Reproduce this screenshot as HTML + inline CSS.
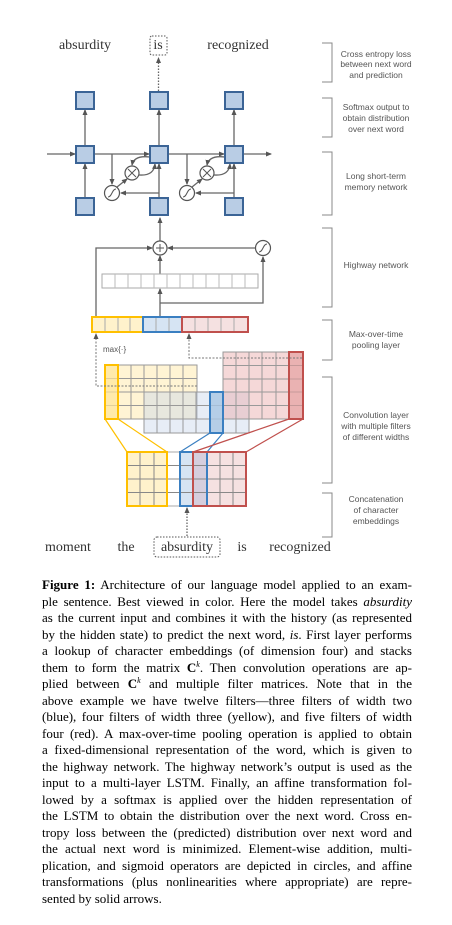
<!DOCTYPE html>
<html><head><meta charset="utf-8"><style>
html,body{margin:0;padding:0;background:#fff;width:452px;height:925px;overflow:hidden}
svg{position:absolute;left:0;top:0}
.cap{position:absolute;left:42px;top:577px;width:370px;font-family:"Liberation Serif",serif;font-size:13px;color:#000}
.cap div{height:16.5px;line-height:16.5px;text-align:justify;text-align-last:justify;white-space:nowrap;overflow:visible}
.cap div.l{text-align-last:left}
.sp{position:relative;top:-5px;font-size:8px;line-height:0;font-style:italic}
</style></head><body>
<svg width="452" height="570" viewBox="0 0 452 570" xmlns="http://www.w3.org/2000/svg">
<defs>
<marker id="a" markerWidth="6" markerHeight="6" refX="5" refY="3" orient="auto" markerUnits="userSpaceOnUse"><path d="M0,0.5 L6,3 L0,5.5z" fill="#555"/></marker>
</defs>
<g font-family="Liberation Serif, serif" font-size="14" fill="#333" text-anchor="middle">
<text x="85" y="49">absurdity</text>
<text x="158" y="49">is</text>
<text x="238" y="49">recognized</text>
<text x="68" y="551">moment</text>
<text x="126" y="551">the</text>
<text x="187" y="551">absurdity</text>
<text x="242" y="551">is</text>
<text x="300" y="551">recognized</text>
</g>
<rect x="150" y="36" width="17" height="19" rx="2" fill="none" stroke="#555" stroke-dasharray="1.5,1.5"/>
<rect x="154" y="537" width="66" height="20" rx="3" fill="none" stroke="#555" stroke-dasharray="1.5,1.5"/>
<g stroke="#666" stroke-width="1.3" fill="none">
<line x1="158.5" y1="91" x2="158.5" y2="58" stroke-dasharray="1.5,1.5" marker-end="url(#a)"/>
<line x1="187" y1="536" x2="187" y2="508" stroke-dasharray="1.5,1.5" marker-end="url(#a)"/>
<line x1="47" y1="154" x2="75" y2="154" marker-end="url(#a)"/>
<line x1="94" y1="154" x2="149" y2="154" marker-end="url(#a)"/>
<line x1="168" y1="154" x2="224" y2="154" marker-end="url(#a)"/>
<line x1="243" y1="154" x2="271" y2="154" marker-end="url(#a)"/>
<line x1="85" y1="145" x2="85" y2="110" marker-end="url(#a)"/>
<line x1="159" y1="145" x2="159" y2="110" marker-end="url(#a)"/>
<line x1="234" y1="145" x2="234" y2="110" marker-end="url(#a)"/>
<line x1="85" y1="197" x2="85" y2="164" marker-end="url(#a)"/>
<line x1="159" y1="197" x2="159" y2="164" marker-end="url(#a)"/>
<line x1="234" y1="197" x2="234" y2="164" marker-end="url(#a)"/>
<line x1="112" y1="154" x2="112" y2="184" marker-end="url(#a)"/>
<line x1="159" y1="193" x2="121" y2="193" marker-end="url(#a)"/>
<line x1="117" y1="187" x2="127" y2="179" marker-end="url(#a)"/>
<path d="M150,157 Q134,155 132,165" marker-end="url(#a)"/>
<path d="M139,175 Q154,176 155,164" marker-end="url(#a)"/>
<line x1="187" y1="154" x2="187" y2="184" marker-end="url(#a)"/>
<line x1="234" y1="193" x2="196" y2="193" marker-end="url(#a)"/>
<line x1="192" y1="187" x2="202" y2="179" marker-end="url(#a)"/>
<path d="M225,157 Q209,155 207,165" marker-end="url(#a)"/>
<path d="M214,175 Q229,176 230,164" marker-end="url(#a)"/>
<line x1="160" y1="241" x2="160" y2="218" marker-end="url(#a)"/>
<polyline points="96,317 96,248 152,248" marker-end="url(#a)"/>
<line x1="255" y1="248" x2="168" y2="248" marker-end="url(#a)"/>
<line x1="160" y1="317" x2="160" y2="289" marker-end="url(#a)"/>
<line x1="160" y1="274" x2="160" y2="256" marker-end="url(#a)"/>
<polyline points="160,303 263,303 263,257" marker-end="url(#a)"/>
</g>
<g fill="#fff" stroke="#555" stroke-width="1.2">
<circle cx="132" cy="173" r="7"/><circle cx="112" cy="193" r="7.5"/>
<circle cx="207" cy="173" r="7"/><circle cx="187" cy="193" r="7.5"/>
<circle cx="160" cy="248" r="7"/><circle cx="263" cy="248" r="7.5"/>
</g>
<g stroke="#555" stroke-width="1" fill="none">
<path d="M128,169 L136,177 M136,169 L128,177"/><path d="M203,169 L211,177 M211,169 L203,177"/>
<path d="M156,248 L164,248 M160,244 L160,252"/>
<path d="M108,197 C112,197 112,189 116,189"/><path d="M183,197 C187,197 187,189 191,189"/><path d="M259,252 C263,252 263,244 267,244"/>
</g>
<g fill="#b9cde5" stroke="#3b6496" stroke-width="2">
<rect x="76" y="92" width="18" height="17"/><rect x="150" y="92" width="18" height="17"/><rect x="225" y="92" width="18" height="17"/>
<rect x="76" y="146" width="18" height="17"/><rect x="150" y="146" width="18" height="17"/><rect x="225" y="146" width="18" height="17"/>
<rect x="76" y="198" width="18" height="17"/><rect x="150" y="198" width="18" height="17"/><rect x="225" y="198" width="18" height="17"/>
</g>
<rect x="102" y="274" width="156" height="14" fill="#fff" stroke="#aaa"/>
<g stroke="#bbb"><path d="M115,274v14M128,274v14M141,274v14M154,274v14M167,274v14M180,274v14M193,274v14M206,274v14M219,274v14M232,274v14M245,274v14"/></g>
<rect x="92" y="317" width="51" height="15" fill="#fff2cc" stroke="#ffc000" stroke-width="2"/>
<rect x="143" y="317" width="39" height="15" fill="#d6e4f3" stroke="#3a7fc1" stroke-width="2"/>
<rect x="182" y="317" width="66" height="15" fill="#f5e1e1" stroke="#c0504d" stroke-width="2"/>
<g stroke="#aaa"><path d="M105,318v13M118,318v13M130,318v13M156,318v13M169,318v13M195,318v13M208,318v13M221,318v13M234,318v13"/></g>
<text x="103" y="352" font-family="Liberation Sans, sans-serif" font-size="8" fill="#555">max{·}</text>
<g stroke="#999" stroke-width="1">
<rect x="105" y="365" width="92" height="54" fill="#fff2cc" fill-opacity="0.85"/>
<path d="M118,365v54M131,365v54M144,365v54M157,365v54M170,365v54M183,365v54M105,378.5h92M105,392h92M105,405.5h92" />
<rect x="144" y="392" width="105" height="41" fill="#c9d6ea" fill-opacity="0.45"/>
<path d="M157,392v41M170,392v41M183,392v41M196,392v41M210,392v41M223,392v41M236,392v41M144,405.5h105M144,419h105"/>
<rect x="223" y="352" width="80" height="67" fill="#e8a8a8" fill-opacity="0.45"/>
<path d="M236,352v67M249,352v67M262,352v67M276,352v67M289,352v67M223,365.5h80M223,379h80M223,392h80M223,405.5h80"/>
</g>
<rect x="105" y="365" width="13" height="54" fill="#ffe699" fill-opacity="0.7" stroke="#ffc000" stroke-width="2"/>
<rect x="210" y="392" width="13" height="41" fill="#a9c6e4" fill-opacity="0.8" stroke="#3a7fc1" stroke-width="2"/>
<rect x="289" y="352" width="14" height="67" fill="#e29a9a" fill-opacity="0.6" stroke="#c0504d" stroke-width="2"/>
<g stroke="#777" stroke-width="1" fill="none" stroke-dasharray="2,1.5">
<polyline points="197,386 96,386 96,334" marker-end="url(#a)"/>
<polyline points="302,358 189,358 189,334" marker-end="url(#a)"/>
</g>
<g stroke-width="1.2" fill="none">
<path d="M105,419L127,452M118,419L167,452" stroke="#ffc000"/>
<path d="M210,433L180,452M223,433L207,452" stroke="#3a7fc1"/>
<path d="M289,419L193,452M303,419L246,452" stroke="#c0504d"/>
</g>
<rect x="127" y="452" width="119" height="54" fill="#fff" stroke="#aaa"/>
<rect x="127" y="452" width="40" height="54" fill="#fff2cc"/>
<rect x="180" y="452" width="27" height="54" fill="#d6e4f3"/>
<rect x="193" y="452" width="53" height="54" fill="#f5e1e1"/>
<rect x="193" y="452" width="14" height="54" fill="#d5cedd"/>
<g stroke="#888"><path d="M140,452v54M154,452v54M167,452v54M180,452v54M193,452v54M207,452v54M220,452v54M233,452v54M127,465.5h119M127,479h119M127,492.5h119"/></g>
<rect x="127" y="452" width="40" height="54" fill="none" stroke="#ffc000" stroke-width="2"/>
<rect x="180" y="452" width="27" height="54" fill="none" stroke="#3a7fc1" stroke-width="2"/>
<rect x="193" y="452" width="53" height="54" fill="none" stroke="#c0504d" stroke-width="2"/>
<g stroke="#888" stroke-width="1" fill="none">
<polyline points="322,43 332,43 332,82 322,82"/>
<polyline points="322,98 332,98 332,137 322,137"/>
<polyline points="322,152 332,152 332,215 322,215"/>
<polyline points="322,228 332,228 332,307 322,307"/>
<polyline points="322,320 332,320 332,360 322,360"/>
<polyline points="322,377 332,377 332,483 322,483"/>
<polyline points="322,493 332,493 332,537 322,537"/>
</g>
<g font-family="Liberation Sans, sans-serif" font-size="8.5" fill="#555" text-anchor="middle">
<text x="376" y="57">Cross entropy loss</text><text x="376" y="67">between next word</text><text x="376" y="78">and prediction</text>
<text x="376" y="110">Softmax output to</text><text x="376" y="121">obtain distribution</text><text x="376" y="132">over next word</text>
<text x="376" y="179">Long short-term</text><text x="376" y="190">memory network</text>
<text x="376" y="268">Highway network</text>
<text x="376" y="337">Max-over-time</text><text x="376" y="348">pooling layer</text>
<text x="376" y="418">Convolution layer</text><text x="376" y="429">with multiple filters</text><text x="376" y="440">of different widths</text>
<text x="376" y="502">Concatenation</text><text x="376" y="513">of character</text><text x="376" y="524">embeddings</text>
</g>
</svg>
<div class="cap">
<div><b>Figure 1:</b> Architecture of our language model applied to an exam-</div>
<div>ple sentence. Best viewed in color. Here the model takes <i>absurdity</i></div>
<div>as the current input and combines it with the history (as represented</div>
<div>by the hidden state) to predict the next word, <i>is</i>. First layer performs</div>
<div>a lookup of character embeddings (of dimension four) and stacks</div>
<div>them to form the matrix <b>C</b><span class="sp">k</span>. Then convolution operations are ap-</div>
<div>plied between <b>C</b><span class="sp">k</span> and multiple filter matrices. Note that in the</div>
<div>above example we have twelve filters—three filters of width two</div>
<div>(blue), four filters of width three (yellow), and five filters of width</div>
<div>four (red). A max-over-time pooling operation is applied to obtain</div>
<div>a fixed-dimensional representation of the word, which is given to</div>
<div>the highway network. The highway network’s output is used as the</div>
<div>input to a multi-layer LSTM. Finally, an affine transformation fol-</div>
<div>lowed by a softmax is applied over the hidden representation of</div>
<div>the LSTM to obtain the distribution over the next word. Cross en-</div>
<div>tropy loss between the (predicted) distribution over next word and</div>
<div>the actual next word is minimized. Element-wise addition, multi-</div>
<div>plication, and sigmoid operators are depicted in circles, and affine</div>
<div>transformations (plus nonlinearities where appropriate) are repre-</div>
<div class="l">sented by solid arrows.</div>
</div>
</body></html>
